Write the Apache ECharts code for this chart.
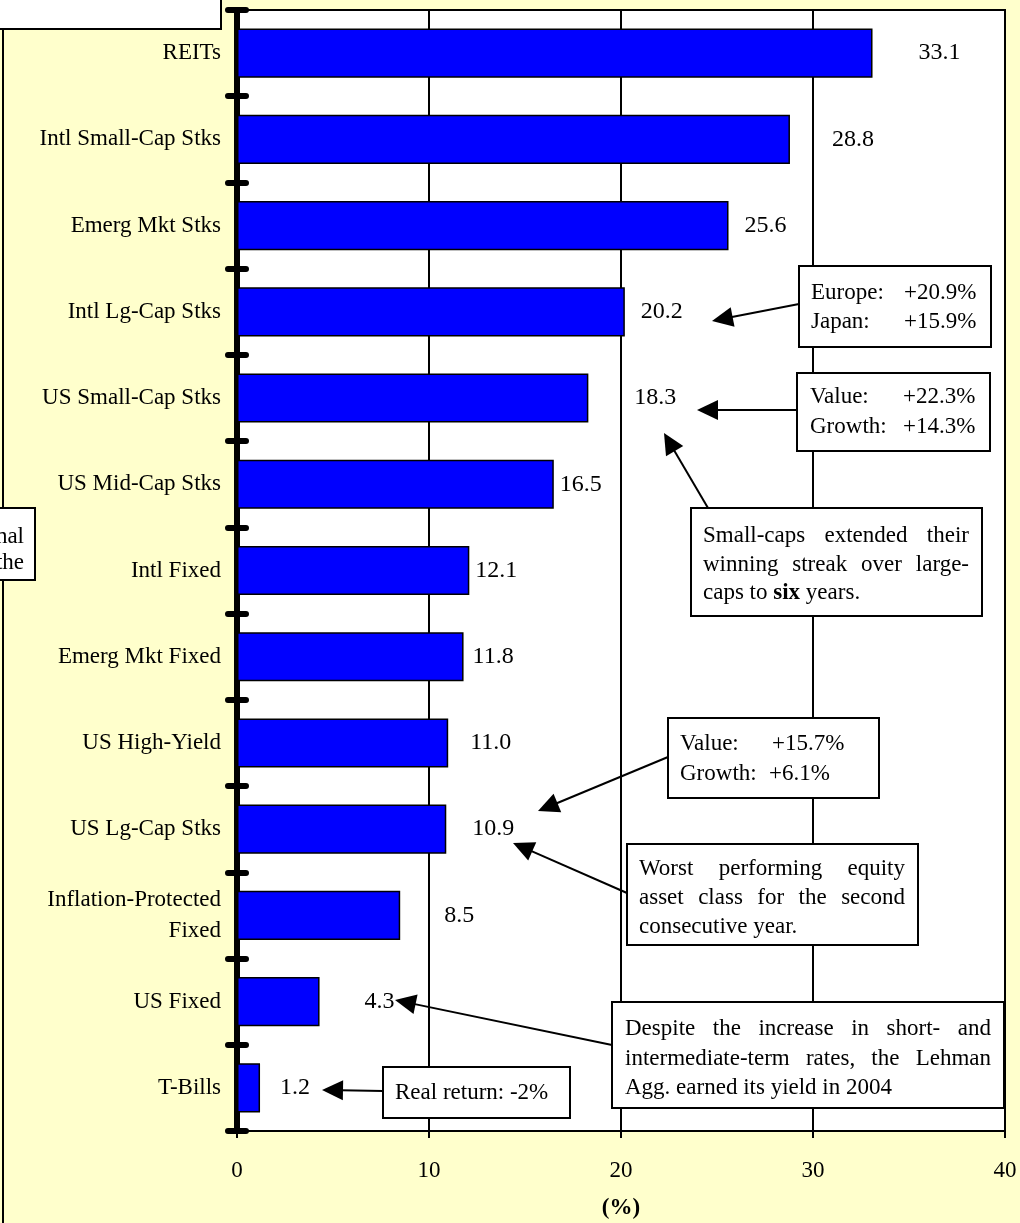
<!DOCTYPE html>
<html>
<head>
<meta charset="utf-8">
<script src="https://cdn.jsdelivr.net/npm/echarts@6/dist/echarts.min.js"></script>
<style>
  html, body { margin: 0; padding: 0; background: #FFFFCC; }
  #chart { width: 1020px; height: 1223px; }
</style>
</head>
<body>
<div id="chart"></div>
<script>
// 2004 total returns by asset class (%)
const categories = [
  'REITs', 'Intl Small-Cap Stks', 'Emerg Mkt Stks', 'Intl Lg-Cap Stks',
  'US Small-Cap Stks', 'US Mid-Cap Stks', 'Intl Fixed', 'Emerg Mkt Fixed',
  'US High-Yield', 'US Lg-Cap Stks', 'Inflation-Protected\nFixed', 'US Fixed', 'T-Bills'
];
const returns2004 = [33.1, 28.8, 25.6, 20.2, 18.3, 16.5, 12.1, 11.8, 11.0, 10.9, 8.5, 4.3, 1.2];
const xTicks = [0, 10, 20, 30, 40];

// gap (px) between each bar end and its value label
const labelGaps = [46, 42, 16, 16, 46, 6, 6, 9, 22, 26, 44, 45, 20];

const SERIF = '"Liberation Serif", "Times New Roman", serif';
const FONT = '23px ' + SERIF;
const BOLD = 'bold 23px ' + SERIF;

const measureCtx = document.createElement('canvas').getContext('2d');
measureCtx.font = FONT;

const Z = 100;
function rect(x, y, w, h, fill) {
  return { type: 'rect', z: Z, shape: { x, y, width: w, height: h },
           style: { fill: fill || '#fff', stroke: '#000', lineWidth: 2 } };
}
function text(x, y, str, align) {
  return { type: 'text', z: Z + 1, x, y,
           style: { text: str, font: FONT, fill: '#000', align: align || 'left', verticalAlign: 'middle' } };
}
function line(x1, y1, x2, y2) {
  return { type: 'line', z: Z, shape: { x1, y1, x2, y2 }, style: { stroke: '#000', lineWidth: 2 } };
}
// straight arrow from tail to tip with a filled triangular head
function arrow(tail, tip) {
  const [x1, y1] = tail, [x2, y2] = tip;
  const dx = x2 - x1, dy = y2 - y1, L = Math.hypot(dx, dy);
  const ux = dx / L, uy = dy / L, hl = 21, hw = 10;
  const bx = x2 - ux * hl, by = y2 - uy * hl;
  return [
    line(x1, y1, bx + ux * 2, by + uy * 2),
    { type: 'polygon', z: Z, shape: { points: [[x2, y2], [bx - uy * hw, by + ux * hw], [bx + uy * hw, by - ux * hw]] },
      style: { fill: '#000' } }
  ];
}
// justified paragraph: every line but the last is spread across the full width
function justified(lines, x, y0, width, lineH, lastRich) {
  const out = [];
  lines.forEach((ln, i) => {
    const y = y0 + i * lineH;
    if (i === lines.length - 1) {
      if (lastRich) {
        out.push({ type: 'text', z: Z + 1, x, y,
          style: { text: ln, fill: '#000', verticalAlign: 'middle',
                   rich: { n: { font: FONT, fill: '#000' }, b: { font: BOLD, fill: '#000' } } } });
      } else {
        out.push(text(x, y, ln));
      }
      return;
    }
    const words = ln.split(' ');
    const ws = words.map(w => measureCtx.measureText(w).width);
    const gap = (width - ws.reduce((a, b) => a + b, 0)) / (words.length - 1);
    let cx = x;
    words.forEach((w, j) => { out.push(text(cx, y, w)); cx += ws[j] + gap; });
  });
  return out;
}

const notes = [];
// frame pieces at the left edge
notes.push(line(3, 29, 3, 1223));
notes.push(rect(-2, -2, 223, 31));
notes.push(rect(-2, 508, 37, 72));
notes.push(text(24, 537, 'nal', 'right'), text(24, 563, 'the', 'right'));

// Intl large-cap breakdown
notes.push(rect(799, 266, 192, 81));
notes.push(text(811, 293, 'Europe:'), text(904, 293, '+20.9%'));
notes.push(text(811, 322, 'Japan:'), text(904, 322, '+15.9%'));
notes.push(...arrow([799, 304], [712, 321]));

// US small-cap breakdown
notes.push(rect(797, 373, 193, 78));
notes.push(text(810, 397, 'Value:'), text(903, 397, '+22.3%'));
notes.push(text(810, 427, 'Growth:'), text(903, 427, '+14.3%'));
notes.push(...arrow([797, 410], [697, 410]));

// small-cap streak
notes.push(rect(691, 508, 291, 108));
notes.push(...justified(['Small-caps extended their', 'winning streak over large-',
  '{n|caps to }{b|six}{n| years.}'], 703, 536, 266, 28.5, true));
notes.push(...arrow([708, 508], [664, 433]));

// US large-cap breakdown
notes.push(rect(668, 718, 211, 80));
notes.push(text(680, 744, 'Value:'), text(772, 744, '+15.7%'));
notes.push(text(680, 774, 'Growth:'), text(769, 774, '+6.1%'));
notes.push(...arrow([668, 757], [538, 811]));

// worst equity class
notes.push(rect(627, 844, 291, 101));
notes.push(...justified(['Worst performing equity', 'asset class for the second',
  'consecutive year.'], 639, 869, 266, 29));
notes.push(...arrow([627, 893], [513, 843]));

// US fixed comment
notes.push(rect(612, 1002, 392, 106));
notes.push(...justified(['Despite the increase in short- and', 'intermediate-term rates, the Lehman',
  'Agg. earned its yield in 2004'], 625, 1029, 366, 29.5));
notes.push(...arrow([612, 1045], [395, 1000]));

// T-bills real return
notes.push(rect(383, 1067, 187, 51));
notes.push(text(395, 1093, 'Real return: -2%'));
notes.push(...arrow([383, 1091], [322, 1090]));

const chart = echarts.init(document.getElementById('chart'), null, { renderer: 'canvas' });

const hiddenY = {
  type: 'category', data: categories, inverse: true, position: 'left',
  axisLine: { show: false }, axisLabel: { show: false }, splitLine: { show: false }
};

chart.setOption({
  backgroundColor: '#FFFFCC',
  animation: false,
  textStyle: { fontFamily: SERIF },
  grid: { left: 237, right: 15, top: 10, bottom: 92, show: true, outerBoundsMode: 'none',
          backgroundColor: '#fff', borderColor: '#000', borderWidth: 2 },
  xAxis: {
    type: 'value', min: xTicks[0], max: xTicks[xTicks.length - 1], interval: xTicks[1] - xTicks[0],
    name: '(%)', nameLocation: 'middle', nameGap: 66,
    nameTextStyle: { fontFamily: SERIF, fontSize: 23, fontWeight: 'bold', color: '#000' },
    axisLine: { show: true, lineStyle: { color: '#000', width: 2 } },
    axisTick: { show: true, length: 7, lineStyle: { color: '#000', width: 2 } },
    axisLabel: { fontFamily: SERIF, fontSize: 23, color: '#000', margin: 28 },
    splitLine: { show: true, lineStyle: { color: '#000', width: 2 } }
  },
  yAxis: [
    {
      type: 'category', data: categories, inverse: true, position: 'left',
      axisLine: { show: true, lineStyle: { color: '#000', width: 6, cap: 'round' } },
      axisTick: { show: true, length: 9, lineStyle: { color: '#000', width: 6, cap: 'round' } },
      axisLabel: { fontFamily: SERIF, fontSize: 23, color: '#000', margin: 16,
                   lineHeight: 31, align: 'right' },
      splitLine: { show: false }
    },
    Object.assign({}, hiddenY, {
      axisTick: { show: true, inside: true, length: 9, lineStyle: { color: '#000', width: 6, cap: 'round' } }
    }),
    Object.assign({}, hiddenY, {
      axisTick: { show: true, inside: true, alignWithLabel: true, length: 2,
                  lineStyle: { color: '#000', width: 5, cap: 'round' } }
    })
  ],
  series: [{
    type: 'bar',
    yAxisIndex: 0,
    barCategoryGap: '43%',
    itemStyle: { color: '#0000FF', borderColor: '#000', borderWidth: 1.5 },
    data: returns2004.map((v, i) => ({
      value: v,
      label: { distance: labelGaps[i] }
    })),
    label: {
      show: true, position: 'right', fontFamily: SERIF, fontSize: 24, color: '#000',
      formatter: p => p.value.toFixed(1)
    }
  }],
  graphic: notes
});
</script>
</body>
</html>
